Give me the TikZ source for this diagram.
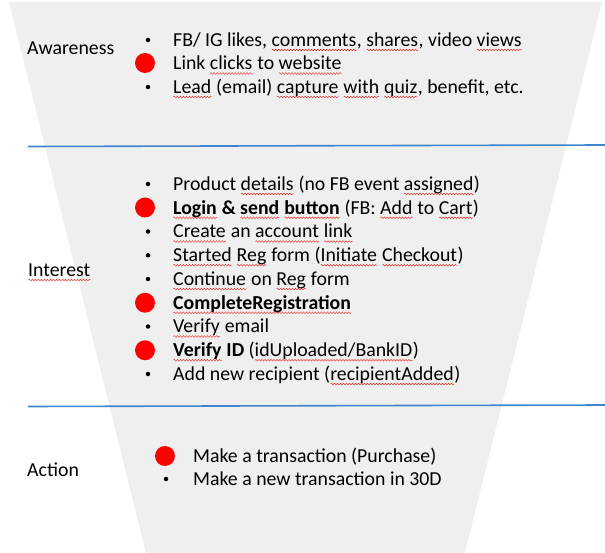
\documentclass[tikz,border=0pt]{standalone}
\usepackage{fontspec}
\setmainfont{Carlito}
\usepackage{xcolor}
\usetikzlibrary{decorations.pathmorphing}
\definecolor{funnelgrey}{HTML}{EFEFEF}
\definecolor{rulecol}{HTML}{3F86CF}
\definecolor{markred}{HTML}{FF0000}
\definecolor{squigred}{HTML}{E8302A}
\newsavebox\spellbox
\newcommand\spell[1]{\sbox\spellbox{#1}\rlap{\usebox\spellbox}\tikz[baseline=0pt,x=1pt,y=1pt]\draw[squigred,line width=0.5pt,decorate,decoration={snake,amplitude=0.8pt,segment length=3pt}] (0,-3.5) -- (\wd\spellbox,-3.5);}

\begin{document}
\begin{tikzpicture}[x=1pt,y=-1pt,
  every node/.style={font=\fontsize{19.8}{23.8}\selectfont,inner sep=0pt},
  lbl/.style={anchor=base west},
  item/.style={anchor=base west},
  bul/.style={circle,fill=black,minimum size=4.5pt,inner sep=0pt},
  reddot/.style={circle,fill=markred,minimum size=20pt,inner sep=0pt},
  sep/.style={draw=rulecol,line width=1.6pt}]
 \useasboundingbox (0,0) rectangle (605,553);
 % funnel and stage separators
 \fill[funnelgrey] (9,2) -- (602,2) -- (465,553) -- (146,553) -- cycle;
 \draw[sep] (28,146.5) -- (605,145);
 \draw[sep] (28,406.5) -- (605,405);
 % stage names
 \node[lbl] (aware) at (27,54.5) {Awareness};
 \node[lbl] (inter) at (28,276.5) {\spell{Interest}};
 \node[lbl] (act) at (27,476.5) {Action};
 % awareness
 \node[bul] (a1) at (148,40) {};
 \node[item] (ta1) at (173,46.5) {FB/ IG likes, \spell{comments}, \spell{shares}, video \spell{views}};
 \node[reddot] (a2) at (145,63) {};
 \node[item] (ta2) at (173,70) {Link \spell{clicks} to \spell{website}};
 \node[bul] (a3) at (148,87) {};
 \node[item] (ta3) at (173,93.5) {\spell{Lead} (email) \spell{capture} \spell{with} \spell{quiz}, benefit, etc.};
 % interest
 \node[bul] (i1) at (148,184) {};
 \node[item] (ti1) at (173,190.5) {Product \spell{details} (no FB event \spell{assigned})};
 \node[reddot] (i2) at (145,207.5) {};
 \node[item] (ti2) at (173,214.25) {\textbf{\spell{Login} \& \spell{send} \spell{button}} (FB: \spell{Add} to \spell{Cart})};
 \node[bul] (i3) at (148,231.5) {};
 \node[item] (ti3) at (173,238) {\spell{Create} an \spell{account} \spell{link}};
 \node[bul] (i4) at (148,255.25) {};
 \node[item] (ti4) at (173,261.75) {\spell{Started} \spell{Reg} form (\spell{Initiate} \spell{Checkout})};
 \node[bul] (i5) at (148,279) {};
 \node[item] (ti5) at (173,285.5) {\spell{Continue} on \spell{Reg} form};
 \node[reddot] (i6) at (145,302.75) {};
 \node[item] (ti6) at (173,309.25) {\textbf{\spell{CompleteRegistration}}};
 \node[bul] (i7) at (148,326.5) {};
 \node[item] (ti7) at (173,333) {\spell{Verify} email};
 \node[reddot] (i8) at (145,350.25) {};
 \node[item] (ti8) at (173,356.75) {\textbf{\spell{Verify} ID} (\spell{idUploaded/BankID})};
 \node[bul] (i9) at (148,374) {};
 \node[item] (ti9) at (173,380.5) {Add new recipient (\spell{recipientAdded})};
 % action
 \node[reddot] (c1) at (165,456) {};
 \node[item] (tc1) at (193,462.5) {Make a transaction (Purchase)};
 \node[bul] (c2) at (166,479) {};
 \node[item] (tc2) at (193,485.5) {Make a new transaction in 30D};
\end{tikzpicture}
\end{document}
